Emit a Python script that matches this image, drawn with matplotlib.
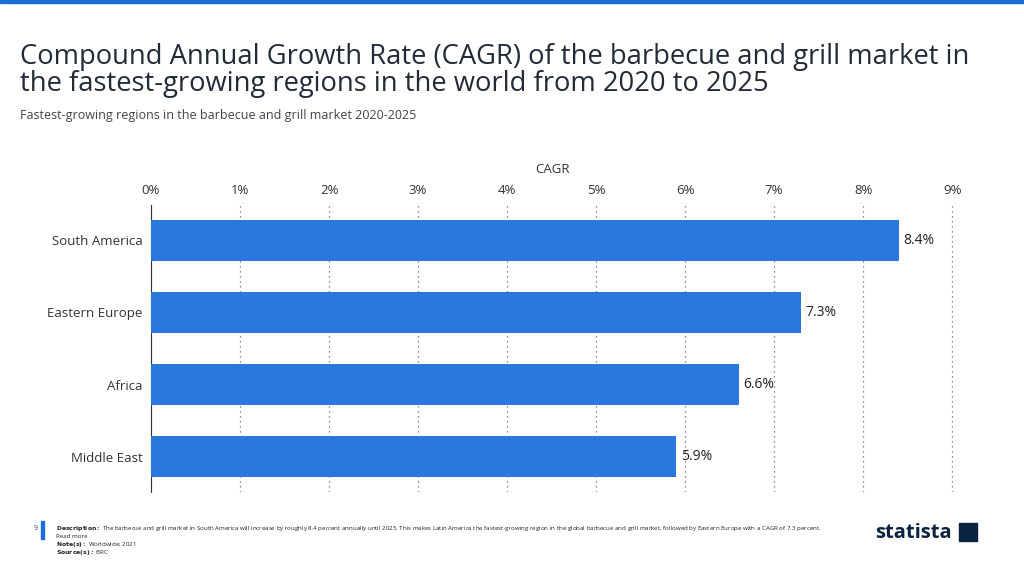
import matplotlib.pyplot as plt

regions = ["South America", "Eastern Europe", "Africa", "Middle East"]
cagr = [8.4, 7.3, 6.6, 5.9]
ticks = [0, 1, 2, 3, 4, 5, 6, 7, 8, 9]

plt.rcParams['font.family'] = ['Open Sans', 'DejaVu Sans']
fig = plt.figure(figsize=(10.24, 5.76), dpi=100)
fig.patches.append(plt.Rectangle((0, 0.995), 1, 0.005, transform=fig.transFigure, color='#1a6ed8'))

ax = fig.add_axes([0.1475, 0.146, 0.7832, 0.498])
y = list(range(len(regions)))
ax.barh(y, cagr, height=0.56, color='#2a77dd', zorder=3)
for yi, v in zip(y, cagr):
    ax.text(v + 0.05, yi, f"{v}%", va='center', ha='left', fontsize=10, color='#222222')
ax.set_xlim(0, 9.01)
ax.set_ylim(3.49, -0.49)
ax.set_yticks(y)
ax.set_yticklabels(regions, fontsize=9.5, color='#333333')
ax.xaxis.tick_top()
ax.xaxis.set_label_position('top')
ax.set_xticks(ticks)
ax.set_xticklabels([f"{t}%" for t in ticks], fontsize=9.5, color='#333333')
ax.set_xlabel("CAGR", fontsize=9.5, color='#333333', labelpad=8)
ax.tick_params(length=0, pad=6)
ax.grid(axis='x', linestyle=(0, (1, 3)), color='#666666', linewidth=0.9, zorder=0)
for s in ['top', 'right', 'bottom']:
    ax.spines[s].set_visible(False)
ax.spines['left'].set_color('#333333')

fig.text(0.0195, 0.925, "Compound Annual Growth Rate (CAGR) of the barbecue and grill market in\nthe fastest-growing regions in the world from 2020 to 2025",
         fontsize=19.7, color='#222b38', va='top', linespacing=0.95)
fig.text(0.0195, 0.8, "Fastest-growing regions in the barbecue and grill market 2020-2025", fontsize=9, color='#444444', va='center')

# footer
fig.patches.append(plt.Rectangle((0.0405, 0.064), 0.002, 0.032, transform=fig.transFigure, color='#1a6ed8'))
fig.text(0.033, 0.083, "9", fontsize=5, color='#444444', va='center')
fig.text(0.055, 0.083, r"$\bf{Description:}$ The barbecue and grill market in South America will increase by roughly 8.4 percent annually until 2025. This makes Latin America the fastest-growing region in the global barbecue and grill market, followed by Eastern Europe with a CAGR of 7.3 percent.",
         fontsize=4.4, color='#222222', va='center')
fig.text(0.055, 0.069, "Read more", fontsize=4.4, color='#222222', va='center')
fig.text(0.055, 0.055, r"$\bf{Note(s):}$ Worldwide; 2021", fontsize=4.4, color='#222222', va='center')
fig.text(0.055, 0.041, r"$\bf{Source(s):}$ BRC", fontsize=4.4, color='#222222', va='center')
fig.text(0.855, 0.075, "statista", fontsize=14.5, fontweight='bold', color='#0b2340', va='center')
fig.patches.append(plt.Rectangle((0.937, 0.06), 0.017, 0.032, transform=fig.transFigure, color='#0b2340'))

fig.savefig("out.png", dpi=100)
